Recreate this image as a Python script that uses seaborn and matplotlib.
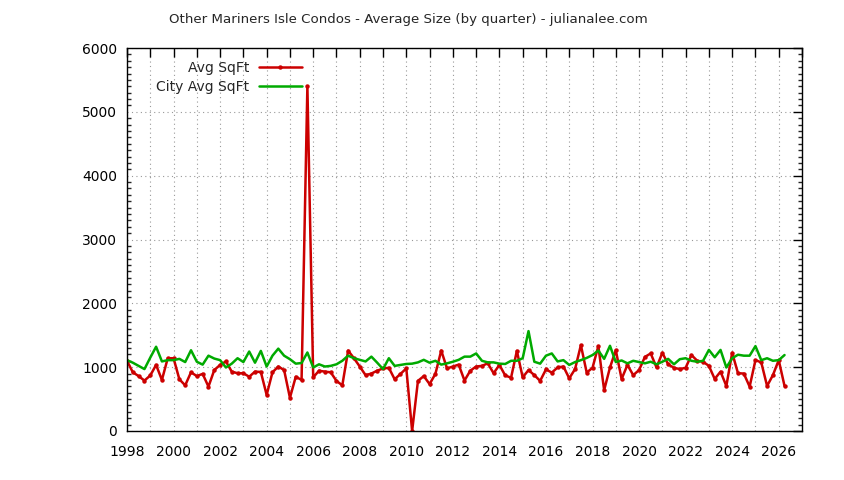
import numpy as np
import pandas as pd
import matplotlib
matplotlib.use("Agg")
import matplotlib.pyplot as plt
import seaborn as sns
from matplotlib.ticker import MultipleLocator, FuncFormatter

# ---- data (quarterly, starting 1998 Q1) ----
start_year = 1998
avg_sqft = [
    1100, 920, 860, 790,     # 1998
    870, 1035, 800, 1140,    # 1999
    1140, 810, 715, 920,     # 2000
    860, 895, 695, 955,      # 2001
    1035, 1090, 930, 905,    # 2002
    905, 850, 930, 925,      # 2003
    565, 920, 1010, 955,     # 2004
    520, 850, 800, 5400,     # 2005
    840, 945, 930, 920,      # 2006
    785, 715, 1260, 1140,    # 2007
    1010, 875, 900, 945,     # 2008
    980, 990, 810, 895,      # 2009
    980, 0, 785, 860,        # 2010
    735, 895, 1260, 980,     # 2011
    1010, 1040, 790, 945,    # 2012
    1010, 1020, 1060, 905,   # 2013
    1035, 870, 835, 1255,    # 2014
    840, 955, 875, 785,      # 2015
    965, 915, 995, 1010,     # 2016
    825, 970, 1345, 915,     # 2017
    990, 1330, 640, 995,     # 2018
    1265, 815, 1035, 875,    # 2019
    955, 1160, 1215, 995,    # 2020
    1225, 1045, 990, 970,    # 2021
    990, 1190, 1100, 1085,   # 2022
    1020, 815, 930, 705,     # 2023
    1225, 905, 900, 695,     # 2024
    1110, 1075, 705, 875,    # 2025
    1110, 705,               # 2026
]
city_avg_sqft = [
    1110, 1070, 1020, 970,   # 1998
    1150, 1320, 1090, 1110,  # 1999
    1110, 1130, 1080, 1265,  # 2000
    1085, 1040, 1180, 1135,  # 2001
    1110, 995, 1055, 1140,   # 2002
    1080, 1245, 1070, 1255,  # 2003
    1010, 1180, 1290, 1180,  # 2004
    1125, 1055, 1065, 1230,  # 2005
    995, 1045, 1010, 1020,   # 2006
    1045, 1100, 1180, 1140,  # 2007
    1115, 1090, 1165, 1070,  # 2008
    970, 1140, 1020, 1035,   # 2009
    1050, 1055, 1075, 1115,  # 2010
    1070, 1100, 1040, 1060,  # 2011
    1085, 1115, 1165, 1165,  # 2012
    1215, 1100, 1075, 1075,  # 2013
    1055, 1050, 1100, 1100,  # 2014
    1140, 1565, 1085, 1055,  # 2015
    1180, 1215, 1090, 1110,  # 2016
    1035, 1080, 1110, 1145,  # 2017
    1190, 1260, 1130, 1335,  # 2018
    1080, 1105, 1060, 1100,  # 2019
    1080, 1060, 1085, 1045,  # 2020
    1085, 1130, 1045, 1125,  # 2021
    1140, 1100, 1085, 1100,  # 2022
    1270, 1155, 1270, 995,   # 2023
    1140, 1195, 1180, 1180,  # 2024
    1330, 1110, 1140, 1100,  # 2025
    1110, 1190,              # 2026
]
series_labels = ["Avg SqFt", "City Avg SqFt"]
title = "Other Mariners Isle Condos - Average Size (by quarter) - julianalee.com"

years = [start_year + i * 0.25 for i in range(len(avg_sqft))]
df = pd.DataFrame({"year": years, "avg": avg_sqft, "city": city_avg_sqft})

sns.set_theme(style="white")
plt.rcParams["font.family"] = ["DejaVu Sans"]

fig = plt.figure(figsize=(8.44, 4.8), dpi=100)
ax = fig.add_axes([127 / 844, 1 - 431 / 480, (802 - 127) / 844, (431 - 48) / 480])

red = "#cc0000"
green = "#00aa00"
sns.lineplot(data=df, x="year", y="avg", ax=ax, color=red, lw=1.8,
             marker="o", markersize=3.2, markeredgewidth=0, label=series_labels[0])
sns.lineplot(data=df, x="year", y="city", ax=ax, color=green, lw=1.8,
             label=series_labels[1])

ax.set_xlim(1998, 2027)
ax.set_ylim(0, 6000)
ax.set_xlabel("")
ax.set_ylabel("")

ax.xaxis.set_major_locator(MultipleLocator(1))
ax.xaxis.set_major_formatter(FuncFormatter(lambda v, p: f"{int(round(v))}" if int(round(v)) % 2 == 0 else ""))
ax.yaxis.set_major_locator(MultipleLocator(1000))
ax.yaxis.set_minor_locator(MultipleLocator(100))
ax.tick_params(axis="both", which="major", direction="in", length=6.5, width=1,
               top=True, right=True, labelsize=10, colors="black")
ax.tick_params(axis="x", which="major", pad=10)
ax.tick_params(axis="y", which="major", pad=7)
ax.tick_params(axis="y", which="minor", direction="in", length=3.2, width=1,
               left=True, right=True)
ax.tick_params(axis="x", which="minor", bottom=False, top=False)

ax.grid(True, which="major", color="#999999", linestyle=(0, (1, 3)), linewidth=0.8)
for s in ax.spines.values():
    s.set_color("black")
    s.set_linewidth(1)

leg = ax.legend(loc="upper right", bbox_to_anchor=(302 / 844, 1 - 61 / 480),
                bbox_transform=fig.transFigure, frameon=False, markerfirst=False,
                fontsize=10, handlelength=3.1, handletextpad=0.7,
                labelspacing=0.35, borderpad=0, borderaxespad=0)

fig.text(408 / 844, 1 - 19 / 480, title, ha="center", va="center", fontsize=9.6)

fig.savefig("out.png", dpi=100)
